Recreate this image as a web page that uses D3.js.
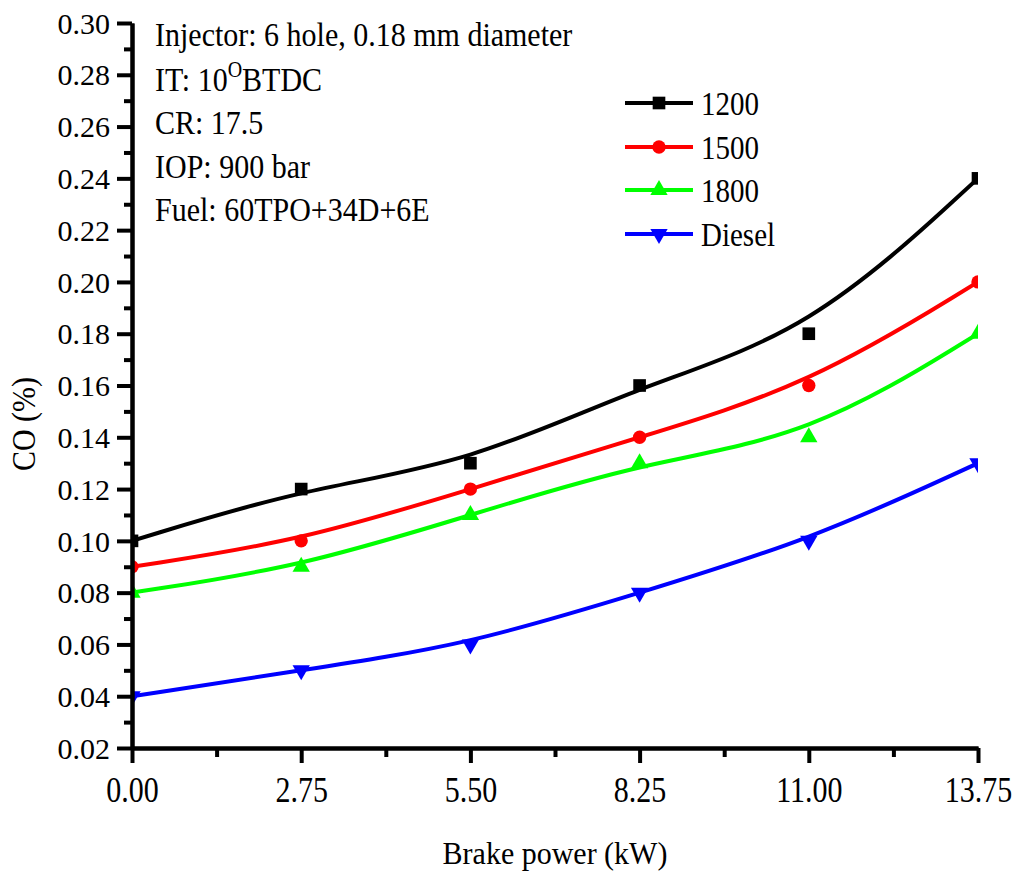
<!DOCTYPE html>
<html>
<head>
<meta charset="utf-8">
<script src="https://cdn.jsdelivr.net/npm/d3@7"></script>
<style>
  html, body { margin: 0; padding: 0; background: #fff; }
  svg { display: block; }
  text { font-family: "Liberation Serif", "Times New Roman", serif; fill: #000; }
</style>
</head>
<body>
<svg id="chart" width="1016" height="871"></svg>
<script>
// Brake power (kW) on the x axis
const power = [0, 2.75, 5.5, 8.25, 11, 13.75];

// CO emission (%) for each series
const co1200   = [0.10, 0.12, 0.13, 0.16, 0.18, 0.24];
const co1500   = [0.09, 0.10, 0.12, 0.14, 0.16, 0.20];
const co1800   = [0.08, 0.09, 0.11, 0.13, 0.14, 0.18];
const coDiesel = [0.04, 0.05, 0.06, 0.08, 0.10, 0.13];

const seriesNames = ["1200", "1500", "1800", "Diesel"];

const xTicks = [0, 2.75, 5.5, 8.25, 11, 13.75];
const yTicks = [0.02, 0.04, 0.06, 0.08, 0.10, 0.12, 0.14, 0.16, 0.18, 0.20, 0.22, 0.24, 0.26, 0.28, 0.30];

const notes = ["Injector: 6 hole, 0.18 mm diameter", "IT: 10", "CR: 17.5", "IOP: 900 bar", "Fuel: 60TPO+34D+6E"];

const series = [
  { name: seriesNames[0], values: co1200,   color: "#000000", symbol: d3.symbolSquare,   size: 160, rot: 0 },
  { name: seriesNames[1], values: co1500,   color: "#ff0000", symbol: d3.symbolCircle,   size: 140, rot: 0 },
  { name: seriesNames[2], values: co1800,   color: "#00ff00", symbol: d3.symbolTriangle, size: 130, rot: 0 },
  { name: seriesNames[3], values: coDiesel, color: "#0000ff", symbol: d3.symbolTriangle, size: 130, rot: 180 }
];

const svg = d3.select("#chart");
const plotLeft = 132, plotRight = 978, plotTop = 23, plotBottom = 748;

const x = d3.scaleLinear().domain([0, 13.75]).range([plotLeft, plotRight]);
const y = d3.scaleLinear().domain([0.02, 0.30]).range([plotBottom, plotTop]);

// clip the curves and markers to the plotting area
svg.append("defs").append("clipPath").attr("id", "plotClip")
  .append("rect").attr("x", plotLeft).attr("y", plotTop)
  .attr("width", plotRight - plotLeft).attr("height", plotBottom - plotTop);

const plot = svg.append("g").attr("clip-path", "url(#plotClip)");

const line = d3.line()
  .x((d, i) => x(power[i]))
  .y(d => y(d))
  .curve(d3.curveBasis);

series.forEach(s => {
  plot.append("path")
    .attr("d", line(s.values))
    .attr("fill", "none")
    .attr("stroke", s.color)
    .attr("stroke-width", 4);
  const sym = d3.symbol().type(s.symbol).size(s.size);
  plot.selectAll(null).data(s.values).enter().append("path")
    .attr("d", sym)
    .attr("fill", s.color)
    .attr("transform", (d, i) => `translate(${x(power[i])},${y(d)}) rotate(${s.rot})`);
});

// axes: major and minor ticks, all pointing outward
const fmt = d3.format(".2f");
const xMinor = d3.range(0, 5).map(i => xTicks[i] + 1.375);
const yMinor = d3.range(0, 14).map(i => 0.03 + i * 0.02);

const xAxis = svg.append("g").attr("transform", `translate(0,${plotBottom})`)
  .call(d3.axisBottom(x).tickValues(xTicks).tickFormat(fmt).tickSize(15).tickSizeOuter(0));
svg.append("g").attr("transform", `translate(0,${plotBottom})`)
  .call(d3.axisBottom(x).tickValues(xMinor).tickFormat("").tickSize(9).tickSizeOuter(0));

const yAxis = svg.append("g").attr("transform", `translate(${plotLeft},0)`)
  .call(d3.axisLeft(y).tickValues(yTicks).tickFormat(fmt).tickSize(15).tickSizeOuter(0).tickPadding(7));
svg.append("g").attr("transform", `translate(${plotLeft},0)`)
  .call(d3.axisLeft(y).tickValues(yMinor).tickFormat("").tickSize(8).tickSizeOuter(0));

svg.selectAll(".domain").attr("stroke", "#000").attr("stroke-width", 4);
svg.selectAll(".tick line").attr("stroke", "#000").attr("stroke-width", 4);

xAxis.selectAll(".tick text")
  .attr("font-size", 30).attr("dy", null).attr("y", null)
  .attr("transform", "translate(0,54) scale(1,1.18)");
yAxis.selectAll(".tick text")
  .attr("font-size", 30).attr("dy", "0.34em");

// axis titles
svg.append("text")
  .attr("transform", `translate(${(plotLeft + plotRight) / 2},864) scale(1,1.07)`)
  .attr("text-anchor", "middle").attr("font-size", 30)
  .text("Brake power (kW)");
svg.append("text")
  .attr("transform", "translate(35,424) rotate(-90) scale(1,1.15)")
  .attr("text-anchor", "middle").attr("font-size", 30)
  .text("CO (%)");

// test-condition notes
const noteY = [46, 91, 134, 178, 221];
notes.forEach((t, i) => {
  const txt = svg.append("text")
    .attr("transform", `translate(155,${noteY[i]}) scale(1,1.11)`)
    .attr("font-size", 30)
    .text(t);
  if (i === 1) {
    txt.append("tspan").attr("font-size", 20).attr("dy", -13).text("O");
    txt.append("tspan").attr("font-size", 30).attr("dy", 13).text("BTDC");
  }
});

// legend
const legY = [103, 147, 190, 234];
series.forEach((s, i) => {
  const g = svg.append("g").attr("transform", `translate(0,${legY[i]})`);
  g.append("line").attr("x1", 625).attr("x2", 693).attr("y1", 0).attr("y2", 0)
    .attr("stroke", s.color).attr("stroke-width", 4);
  g.append("path").attr("d", d3.symbol().type(s.symbol).size(s.size))
    .attr("fill", s.color)
    .attr("transform", `translate(659,0) rotate(${s.rot})`);
  g.append("text").attr("transform", "translate(701,12) scale(1,1.17)")
    .attr("font-size", 29).text(s.name);
});
</script>
</body>
</html>
